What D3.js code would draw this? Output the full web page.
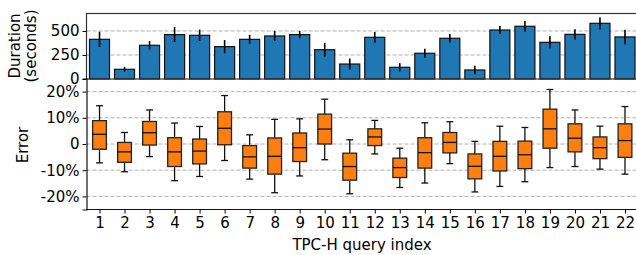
<!DOCTYPE html>
<html>
<head>
<meta charset="utf-8">
<script src="https://cdn.jsdelivr.net/npm/d3@7"></script>
<style>
  body { margin: 0; background: #fff; }
  svg text { font-family: "DejaVu Sans", sans-serif; fill: #000; }
</style>
</head>
<body>
<svg id="grafico" width="636" height="255"></svg>
<script>
// dados
const consultas = d3.range(1, 23);
const duracaoMedia = [413, 101, 351, 462, 455, 337, 413, 448, 462, 305, 156, 434, 122, 268, 424, 94, 510, 549, 382, 465, 580, 438];
const duracaoDesvio = [80, 25, 45, 78, 60, 68, 47, 53, 38, 72, 58, 56, 43, 48, 45, 45, 42, 54, 62, 54, 64, 75];

// erro (%) : bigode inferior, Q1, mediana, Q3, bigode superior
const erroMin = [-7.2, -10.6, -4.8, -14.0, -12.4, -6.3, -13.4, -18.6, -12.2, -6.0, -19.0, -3.8, -16.6, -14.9, -7.5, -18.3, -16.2, -14.4, -9.0, -8.6, -9.6, -11.5];
const erroQ1 = [-2.0, -7.0, -0.4, -8.6, -7.6, -0.3, -9.2, -11.5, -6.7, 0.0, -13.8, -0.6, -12.8, -9.2, -3.4, -13.3, -10.3, -9.4, -1.6, -3.0, -5.6, -5.1];
const erroMediana = [3.7, -3.0, 4.3, -3.0, -2.7, 6.0, -4.9, -4.7, -1.4, 5.7, -8.6, 2.7, -9.0, -3.3, 0.6, -8.5, -4.7, -4.1, 5.8, 2.2, -1.4, 1.3];
const erroQ3 = [8.9, 0.6, 8.6, 2.4, 1.9, 12.3, -0.6, 2.3, 4.2, 11.4, -3.5, 5.8, -5.4, 2.4, 4.4, -3.8, 1.0, 1.1, 13.3, 7.7, 2.7, 7.7];
const erroMax = [14.6, 4.4, 13.0, 8.0, 6.7, 18.5, 3.5, 9.4, 9.6, 17.1, 1.6, 9.0, -1.6, 8.1, 8.5, 1.0, 6.8, 6.3, 20.8, 13.0, 6.8, 14.3];

const ticksDuracao = [0, 250, 500];
const ticksErro = [-20, -10, 0, 10, 20];

const svg = d3.select("#grafico");
const esquerda = 86.5, direita = 638;
const azul = "#1f77b4", laranja = "#ff7f0e";

const x = d3.scaleLinear().domain([0.48, 22.52]).range([esquerda, direita]);
const passo = x(2) - x(1);

const yDur = d3.scaleLinear().domain([0, 682]).range([79, 13.5]);
const yErr = d3.scaleLinear().domain([-25, 25]).range([209.5, 78.5]);

// ---------- painel de cima ----------
const topo = svg.append("g");

topo.selectAll(".grade").data([250, 500]).enter().append("line")
    .attr("x1", esquerda).attr("x2", direita)
    .attr("y1", d => yDur(d)).attr("y2", d => yDur(d))
    .attr("stroke", "#b0b0b0").attr("stroke-width", 1).attr("stroke-dasharray", "4,2");

topo.selectAll(".barra").data(consultas).enter().append("rect")
    .attr("x", d => x(d) - passo * 0.4)
    .attr("width", passo * 0.8)
    .attr("y", (d, i) => yDur(duracaoMedia[i]))
    .attr("height", (d, i) => yDur(0) - yDur(duracaoMedia[i]))
    .attr("fill", azul).attr("stroke", "#111").attr("stroke-width", 1.2);

topo.selectAll(".erro").data(consultas).enter().append("line")
    .attr("x1", d => x(d)).attr("x2", d => x(d))
    .attr("y1", (d, i) => yDur(duracaoMedia[i] + duracaoDesvio[i]))
    .attr("y2", (d, i) => yDur(Math.max(0, duracaoMedia[i] - duracaoDesvio[i])))
    .attr("stroke", "#000").attr("stroke-width", 1.6);

topo.append("rect")
    .attr("x", esquerda).attr("y", yDur.range()[1])
    .attr("width", direita - esquerda).attr("height", yDur(0) - yDur.range()[1])
    .attr("fill", "none").attr("stroke", "#333").attr("stroke-width", 1.2);

const eixoDur = topo.append("g").attr("transform", `translate(${esquerda},0)`)
    .call(d3.axisLeft(yDur).tickValues(ticksDuracao).tickSize(4).tickPadding(3));
eixoDur.select(".domain").remove();
eixoDur.selectAll("text").style("font-size", "15px");

topo.append("text")
    .attr("transform", "translate(24,46) rotate(-90)")
    .attr("text-anchor", "middle").style("font-size", "15px")
    .selectAll("tspan").data(["Duration", "(seconds)"]).enter().append("tspan")
    .attr("x", 0).attr("dy", (d, i) => i == 0 ? "-0.25em" : "1.05em")
    .text(d => d);

// ---------- painel de baixo ----------
const baixo = svg.append("g");

baixo.selectAll(".grade").data(ticksErro).enter().append("line")
    .attr("x1", esquerda).attr("x2", direita)
    .attr("y1", d => yErr(d)).attr("y2", d => yErr(d))
    .attr("stroke", "#b0b0b0").attr("stroke-width", 1).attr("stroke-dasharray", "4,2");

const caixaLarg = passo * 0.55;
const caixas = baixo.selectAll(".caixa").data(consultas).enter().append("g");

caixas.append("line")
    .attr("x1", d => x(d)).attr("x2", d => x(d))
    .attr("y1", (d, i) => yErr(erroMax[i])).attr("y2", (d, i) => yErr(erroQ3[i]))
    .attr("stroke", "#111").attr("stroke-width", 1.3);
caixas.append("line")
    .attr("x1", d => x(d)).attr("x2", d => x(d))
    .attr("y1", (d, i) => yErr(erroQ1[i])).attr("y2", (d, i) => yErr(erroMin[i]))
    .attr("stroke", "#111").attr("stroke-width", 1.3);
caixas.append("line")
    .attr("x1", d => x(d) - caixaLarg / 4).attr("x2", d => x(d) + caixaLarg / 4)
    .attr("y1", (d, i) => yErr(erroMax[i])).attr("y2", (d, i) => yErr(erroMax[i]))
    .attr("stroke", "#111").attr("stroke-width", 1.3);
caixas.append("line")
    .attr("x1", d => x(d) - caixaLarg / 4).attr("x2", d => x(d) + caixaLarg / 4)
    .attr("y1", (d, i) => yErr(erroMin[i])).attr("y2", (d, i) => yErr(erroMin[i]))
    .attr("stroke", "#111").attr("stroke-width", 1.3);
caixas.append("rect")
    .attr("x", d => x(d) - caixaLarg / 2).attr("width", caixaLarg)
    .attr("y", (d, i) => yErr(erroQ3[i]))
    .attr("height", (d, i) => yErr(erroQ1[i]) - yErr(erroQ3[i]))
    .attr("fill", laranja).attr("stroke", "#222").attr("stroke-width", 1.3);
caixas.append("line")
    .attr("x1", d => x(d) - caixaLarg / 2).attr("x2", d => x(d) + caixaLarg / 2)
    .attr("y1", (d, i) => yErr(erroMediana[i])).attr("y2", (d, i) => yErr(erroMediana[i]))
    .attr("stroke", "#111").attr("stroke-width", 1.3);

const eixoErr = baixo.append("g").attr("transform", `translate(${esquerda},0)`)
    .call(d3.axisLeft(yErr).tickValues(ticksErro).tickSize(4).tickPadding(3)
        .tickFormat(d => d == 0 ? "0" : d + "%"));
eixoErr.select(".domain").attr("stroke", "#111").attr("stroke-width", 1.2);
eixoErr.selectAll("text").style("font-size", "15px");

const eixoX = baixo.append("g").attr("transform", `translate(0,${yErr(-25)})`)
    .call(d3.axisBottom(x).tickValues(consultas).tickSize(4).tickPadding(4).tickFormat(d3.format("d")));
eixoX.select(".domain").attr("d", `M${esquerda},0H${direita}`).attr("stroke", "#111").attr("stroke-width", 1.2);
eixoX.selectAll("text").style("font-size", "15px");

baixo.append("text")
    .attr("transform", "translate(28,145) rotate(-90)")
    .attr("text-anchor", "middle").style("font-size", "15px")
    .text("Error");

svg.append("text")
    .attr("x", 362).attr("y", 250)
    .attr("text-anchor", "middle").style("font-size", "15px")
    .text("TPC-H query index");
</script>
</body>
</html>
